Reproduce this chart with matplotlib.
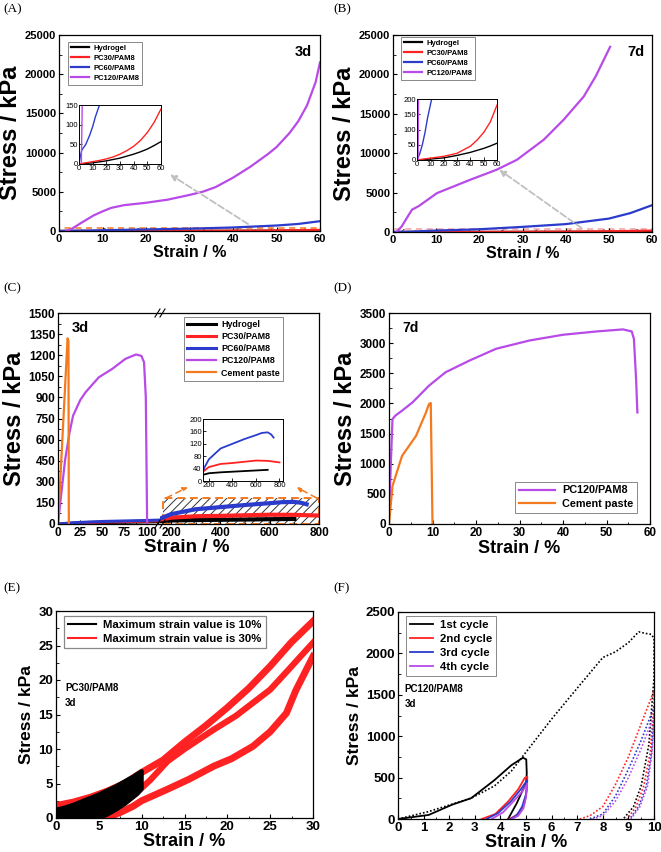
import numpy as np
import matplotlib.pyplot as plt
from matplotlib.patches import Rectangle, ConnectionPatch
from matplotlib.ticker import MultipleLocator, AutoMinorLocator

# ---------------- data ----------------
# (A) 3 d
a_hyd_x = [0, 10, 20, 30, 40, 45, 50, 55, 60]
a_hyd_y = [0, 3, 8, 15, 25, 31, 38, 47, 57]
a_pc30_x = [0, 5, 10, 15, 20, 25, 30, 35, 40, 45, 50, 55, 60]
a_pc30_y = [0, 3, 6, 9, 13, 18, 25, 34, 45, 60, 80, 106, 140]
a_pc60_x = [0, 1, 2, 5, 8, 10, 12, 15, 20, 30, 40, 50, 55, 60]
a_pc60_y = [0, 20, 35, 50, 75, 95, 120, 150, 200, 300, 450, 700, 900, 1250]
a_pc120_x = [1.7, 3, 5, 8, 10, 12, 15, 20, 25, 30, 33, 36, 40, 44, 48, 50, 53, 55, 57, 59, 60]
a_pc120_y = [0, 300, 1000, 2000, 2500, 2950, 3300, 3600, 4000, 4600, 5000, 5600, 6800,
             8200, 9800, 10700, 12500, 14000, 16000, 19000, 21500]

# (B) 7 d
b_hyd_x = [0, 10, 20, 30, 40, 50, 55, 60]
b_hyd_y = [0, 3, 7, 15, 25, 38, 46, 55]
b_pc30_x = [0, 10, 20, 30, 40, 45, 50, 55, 60]
b_pc30_y = [0, 6, 12, 22, 45, 65, 90, 125, 180]
b_pc60_x = [0, 1, 2, 4, 6, 8, 10, 11, 15, 20, 30, 40, 50, 55, 60]
b_pc60_y = [0, 10, 20, 50, 90, 140, 180, 200, 260, 350, 650, 1000, 1700, 2400, 3400]
b_pc120_x = [0.8, 2, 3, 4.4, 6, 10.2, 17.9, 24, 28.7, 34.9, 39.5, 44.2, 47, 50.3]
b_pc120_y = [0, 700, 1600, 2830, 3300, 4940, 6630, 7900, 9160, 11700, 14230, 17200, 19800, 23500]

# (C) 3 d, broken strain axis
c_hyd_x = [0, 20, 50, 100, 150, 200, 300, 400, 500, 600, 700]
c_hyd_y = [0, 5, 10, 15, 20, 25, 28, 30, 32, 34, 36]
c_pc30_x = [0, 20, 50, 100, 150, 200, 300, 400, 500, 600, 700, 800]
c_pc30_y = [0, 8, 14, 20, 30, 45, 55, 58, 62, 66, 65, 60]
c_pc60_x = [0, 20, 50, 100, 150, 200, 300, 400, 500, 600, 650, 700, 730, 750]
c_pc60_y = [0, 10, 18, 25, 35, 70, 105, 120, 135, 148, 155, 157, 150, 140]
c_pc120_x = [0, 2, 8, 13, 17, 25, 31, 46, 61, 76, 88, 94, 97, 99, 100, 100.5]
c_pc120_y = [0, 120, 455, 650, 770, 880, 936, 1043, 1102, 1174, 1205, 1195, 1150, 900, 300, 0]
c_cem_x = [0, 10.8, 11.8, 12.2]
c_cem_y = [0, 1320, 1300, 0]

# (D) 7 d
d_pc120_x = [0, 0.2, 0.4, 0.8, 1.5, 3, 5.4, 9.2, 13, 18.5, 24.6, 32.3, 40, 47.7, 53.8,
             55.8, 56.3, 56.8, 57.1]
d_pc120_y = [150, 500, 960, 1740, 1800, 1880, 2017, 2295, 2517, 2711, 2906, 3044, 3139,
             3194, 3228, 3194, 3072, 2405, 1850]
d_cem_x = [0, 0.8, 3, 6.2, 8.5, 9.2, 9.6, 9.8, 10.0]
d_cem_y = [0, 630, 1130, 1460, 1850, 1990, 2006, 1000, 0]

# (E) PC30/PAM8 cyclic
e10_x = [0, 1, 2, 3, 4, 5, 6, 7, 8, 9, 10, 10, 9.5, 9, 8, 7, 6, 5, 4.5, 0]
e10_y = [1.2, 1.5, 1.9, 2.4, 2.9, 3.4, 4.0, 4.6, 5.3, 6.0, 6.8, 4.2, 3.5, 3.0, 2.0, 1.2, 0.5, 0.0, 0.0, 0]
e30_load_x = [0, 2, 4, 6, 8, 10, 12.5, 15, 17.5, 20, 22.5, 25, 27.5, 30]
e30_load_y = [1.8, 2.3, 3.0, 3.9, 5.0, 6.6, 8.4, 11.0, 13.4, 16.0, 18.8, 22.0, 25.5, 28.5]
e30_unload_x = [30, 28, 26.9, 25, 23, 20.5, 18.4, 15.5, 12.9, 10, 9, 7.5, 5.9]
e30_unload_y = [23.4, 18.5, 15.2, 12.5, 10.4, 8.6, 7.5, 5.6, 4.1, 2.5, 1.7, 0.8, 0]
e30_reload_x = [5, 7, 9, 11, 13, 15, 18.4, 21, 23, 25, 27, 30]
e30_reload_y = [0, 1.5, 3.2, 5.5, 8.2, 10.0, 12.8, 14.8, 16.7, 18.6, 21.3, 25.4]

# (F) PC120/PAM8 cyclic
f1_x = [0, 1.2, 2.1, 2.86, 3.77, 4.43, 4.88, 5.01, 5.03, 5.0, 4.88, 4.64, 4.3]
f1_y = [0, 49, 171, 252, 470, 650, 740, 720, 550, 420, 354, 191, 0]
f2_x = [3.27, 3.8, 4.3, 4.7, 4.95, 5.05, 5.03, 4.95, 4.8, 4.6, 4.35]
f2_y = [0, 60, 211, 360, 496, 510, 350, 200, 100, 40, 0]
f3_x = [3.46, 3.9, 4.4, 4.8, 5.05, 5.0, 4.85, 4.65, 4.4]
f3_y = [0, 70, 210, 360, 470, 300, 150, 50, 0]
f4_x = [3.66, 4.1, 4.5, 4.85, 5.05, 5.0, 4.9, 4.7, 4.45]
f4_y = [0, 80, 210, 330, 430, 260, 130, 40, 0]
f1b_x = [0, 1.19, 2.86, 3.77, 4.43, 4.88, 6, 7, 8, 8.5, 9, 9.4, 9.7, 9.9, 10, 10, 9.8, 9.5, 9.2, 8.8]
f1b_y = [0, 89, 252, 400, 580, 760, 1207, 1580, 1950, 2020, 2130, 2260, 2240, 2230, 2180,
         1700, 900, 400, 150, 0]
f2b_x = [7.1, 7.5, 8, 8.5, 9, 9.5, 10, 10, 9.85, 9.6, 9.3, 8.95]
f2b_y = [0, 40, 150, 420, 750, 1150, 1550, 1400, 800, 400, 150, 0]
f3b_x = [7.5, 8, 8.5, 9, 9.5, 10, 10, 9.9, 9.7, 9.4, 9.05]
f3b_y = [0, 60, 280, 600, 950, 1350, 1250, 800, 400, 150, 0]
f4b_x = [7.6, 8, 8.5, 9, 9.5, 10, 10, 9.92, 9.75, 9.45, 9.1]
f4b_y = [0, 40, 220, 500, 850, 1250, 1150, 800, 400, 150, 0]

labels4 = ['Hydrogel', 'PC30/PAM8', 'PC60/PAM8', 'PC120/PAM8']
cycles = ['1st cycle', '2nd cycle', '3rd cycle', '4th cycle']

# ---------------- style ----------------
BLK, RED, BLU, PUR, ORA = '#000000', '#ff2222', '#2b3ccc', '#b84ae8', '#f47a20'
W, H = 661, 852
plt.rcParams['font.family'] = ['Liberation Sans', 'DejaVu Sans']
plt.rcParams['font.weight'] = 'bold'
plt.rcParams['axes.labelweight'] = 'bold'
plt.rcParams['xtick.direction'] = 'in'
plt.rcParams['ytick.direction'] = 'in'
plt.rcParams['axes.linewidth'] = 0.9
plt.rcParams['hatch.linewidth'] = 0.7
plt.rcParams['legend.frameon'] = True

fig = plt.figure(figsize=(W / 100, H / 100), dpi=100)


def box(l, t, r, b):
    return fig.add_axes([l / W, 1 - b / H, (r - l) / W, (b - t) / H])


def style(ax, xs, ys, fs):
    ax.xaxis.set_major_locator(MultipleLocator(xs))
    ax.yaxis.set_major_locator(MultipleLocator(ys))
    ax.xaxis.set_minor_locator(AutoMinorLocator(2))
    ax.yaxis.set_minor_locator(AutoMinorLocator(2))
    ax.tick_params(which='major', length=3, width=0.8, labelsize=fs, pad=2)
    ax.tick_params(which='minor', length=1.8, width=0.6)


def inset_style(ax, xs, ys):
    ax.xaxis.set_major_locator(MultipleLocator(xs))
    ax.yaxis.set_major_locator(MultipleLocator(ys))
    ax.tick_params(length=2, width=0.6, labelsize=5.5, pad=1)
    for lab in ax.get_xticklabels() + ax.get_yticklabels():
        lab.set_fontweight('normal')
    for s in ax.spines.values():
        s.set_linewidth(0.7)


def leg(ax, handles, labels, fs, anchor, loc='upper left', hl=2.4):
    lg = ax.legend(handles, labels, loc=loc, bbox_to_anchor=(anchor[0] / W, 1 - anchor[1] / H),
                   bbox_transform=fig.transFigure, fontsize=fs, fancybox=False, framealpha=1,
                   edgecolor='#888888', handlelength=hl, borderpad=0.35, labelspacing=0.35,
                   handletextpad=0.6, borderaxespad=0)
    lg.get_frame().set_linewidth(0.7)
    return lg


for lab, px in [('(A)', (3, 3)), ('(B)', (333, 3)), ('(C)', (3, 282)),
                ('(D)', (333, 282)), ('(E)', (3, 582)), ('(F)', (333, 582))]:
    fig.text(px[0] / W, 1 - px[1] / H, lab, family='Liberation Serif', weight='normal',
             fontsize=9.5, va='top', ha='left')

# ---------------- (A) ----------------
axA = box(59, 35, 320, 231)
axA.add_patch(Rectangle((0, 0), 60, 430, fill=False, hatch='/', edgecolor='#444444', lw=0))
axA.add_patch(Rectangle((0, 0), 60, 430, fill=False, edgecolor=ORA, lw=1.1, ls=(0, (4, 3))))
hA = []
for x, y, c in [(a_hyd_x, a_hyd_y, BLK), (a_pc30_x, a_pc30_y, RED),
                (a_pc60_x, a_pc60_y, BLU), (a_pc120_x, a_pc120_y, PUR)]:
    hA += axA.plot(x, y, color=c, lw=1.6)
axA.annotate('', xy=(25, 7400), xytext=(44, 700),
             arrowprops=dict(arrowstyle='-|>', color='#c0c0c0', ls='--', lw=1.3, mutation_scale=9))
axA.set_xlim(0, 60)
axA.set_ylim(0, 25000)
style(axA, 10, 5000, 8)
axA.set_xlabel('Strain / %', fontsize=11.5, labelpad=1)
axA.set_ylabel('Stress / kPa', fontsize=17, labelpad=2)
axA.text(0.97, 0.95, '3d', transform=axA.transAxes, ha='right', va='top', fontsize=10.5)
leg(axA, hA, labels4, 5.5, (68, 42))

insA = box(79, 105, 161, 164)
for x, y, c in [(a_hyd_x, a_hyd_y, BLK), (a_pc30_x, a_pc30_y, RED),
                (a_pc60_x, a_pc60_y, BLU), (a_pc120_x, a_pc120_y, PUR)]:
    insA.plot(x, y, color=c, lw=1.0)
insA.set_xlim(0, 60)
insA.set_ylim(0, 150)
inset_style(insA, 10, 50)

# ---------------- (B) ----------------
axB = box(393, 35, 652, 232)
axB.add_patch(Rectangle((0, 0), 60, 330, fill=False, hatch='/', edgecolor='#444444', lw=0))
axB.add_patch(Rectangle((0, 0), 60, 330, fill=False, edgecolor='#f5a0a0', lw=1.1, ls=(0, (4, 3))))
hB = []
for x, y, c in [(b_hyd_x, b_hyd_y, BLK), (b_pc30_x, b_pc30_y, RED),
                (b_pc60_x, b_pc60_y, BLU), (b_pc120_x, b_pc120_y, PUR)]:
    hB += axB.plot(x, y, color=c, lw=1.6)
axB.annotate('', xy=(24.1, 8100), xytext=(44.2, 300),
             arrowprops=dict(arrowstyle='-|>', color='#c0c0c0', ls='--', lw=1.3, mutation_scale=9))
axB.set_xlim(0, 60)
axB.set_ylim(0, 25000)
style(axB, 10, 5000, 8)
axB.set_xlabel('Strain / %', fontsize=11.5, labelpad=1)
axB.set_ylabel('Stress / kPa', fontsize=17, labelpad=2)
axB.text(0.97, 0.95, '7d', transform=axB.transAxes, ha='right', va='top', fontsize=10.5)
leg(axB, hB, labels4, 5.5, (401, 37))

insB = box(417, 99, 497, 160)
for x, y, c in [(b_hyd_x, b_hyd_y, BLK), (b_pc30_x, b_pc30_y, RED),
                (b_pc60_x, b_pc60_y, BLU), (b_pc120_x, b_pc120_y, PUR)]:
    insB.plot(x, y, color=c, lw=1.0)
insB.set_xlim(0, 60)
insB.set_ylim(0, 200)
inset_style(insB, 10, 50)

# ---------------- (C) ----------------
axC1 = box(58, 313, 160, 524)
axC2 = box(160, 313, 319, 524)
hC = []
for x, y, c in [(c_hyd_x, c_hyd_y, BLK), (c_pc30_x, c_pc30_y, RED), (c_pc60_x, c_pc60_y, BLU)]:
    hC += axC1.plot(x, y, color=c, lw=2.2)
    axC2.plot(x, y, color=c, lw=3.0)
hC += axC1.plot(c_pc120_x, c_pc120_y, color=PUR, lw=1.6)
hC += axC1.plot(c_cem_x, c_cem_y, color=ORA, lw=1.6)
axC2.add_patch(Rectangle((168, 0), 632, 185, fill=False, hatch='////', edgecolor='#333333', lw=0, zorder=0))
axC2.add_patch(Rectangle((168, 0), 632, 185, fill=False, edgecolor=ORA, lw=1.4, ls=(0, (4, 2.5))))
axC1.set_xlim(0, 115)
axC2.set_xlim(155, 800)
for ax in (axC1, axC2):
    ax.set_ylim(0, 1500)
style(axC1, 25, 150, 8.5)
style(axC2, 200, 150, 8.5)
axC1.spines['right'].set_visible(False)
axC2.spines['left'].set_visible(False)
axC2.tick_params(axis='y', which='both', left=False, labelleft=False)
axC1.set_ylabel('Stress / kPa', fontsize=17, labelpad=2)
fig.text(187 / W, 1 - 547 / H, 'Strain / %', fontsize=13.5, ha='center', va='center')
axC1.text(0.13, 0.96, '3d', transform=axC1.transAxes, ha='left', va='top', fontsize=10.5)
dx, dy = 2.5 / W, 4 / H
for ypx in (524, 313):
    for off in (-2.5, 2.5):
        xc = (160 + off) / W
        yc = 1 - ypx / H
        fig.add_artist(plt.Line2D([xc - dx, xc + dx], [yc - dy, yc + dy],
                                  color='k', lw=0.8, transform=fig.transFigure))
leg(axC2, hC, labels4 + ['Cement paste'], 6.4, (184, 317), hl=3.2)

insC = box(203, 419, 283, 481)
for x, y, c in [(c_hyd_x, c_hyd_y, BLK), (c_pc30_x, c_pc30_y, RED), (c_pc60_x, c_pc60_y, BLU)]:
    insC.plot(x, y, color=c, lw=1.3)
insC.set_xlim(150, 830)
insC.set_ylim(0, 200)
inset_style(insC, 200, 40)
for xa, xb in [(180, -0.19), (790, 1.17)]:
    cp = ConnectionPatch(xyA=(xa, 185), coordsA=axC2.transData, xyB=(xb, -0.1),
                         coordsB=insC.transAxes, arrowstyle='-|>', color=ORA, lw=1.1,
                         ls=(0, (4, 3)), mutation_scale=7)
    fig.add_artist(cp)

# ---------------- (D) ----------------
axD = box(389, 313, 650, 524)
hD = axD.plot(d_pc120_x, d_pc120_y, color=PUR, lw=1.6)
hD += axD.plot(d_cem_x, d_cem_y, color=ORA, lw=1.6)
axD.set_xlim(0, 60)
axD.set_ylim(0, 3500)
style(axD, 10, 500, 8.5)
axD.set_xlabel('Strain / %', fontsize=13, labelpad=1)
axD.set_ylabel('Stress / kPa', fontsize=17, labelpad=2)
axD.text(0.05, 0.96, '7d', transform=axD.transAxes, ha='left', va='top', fontsize=10)
leg(axD, hD, ['PC120/PAM8', 'Cement paste'], 7.8, (637, 513), loc='lower right', hl=3.4)

# ---------------- (E) ----------------
axE = box(56, 611, 313, 818)
axE.fill(e10_x, e10_y, color=BLK, lw=0, zorder=3)
hE = axE.plot(e10_x, e10_y, color=BLK, lw=3, zorder=3)
hE += axE.plot(e30_load_x, e30_load_y, color=RED, lw=5)
axE.plot(e30_unload_x, e30_unload_y, color=RED, lw=5)
axE.plot(e30_reload_x, e30_reload_y, color=RED, lw=4.5)
axE.set_xlim(0, 30)
axE.set_ylim(0, 30)
style(axE, 5, 5, 9.5)
axE.set_xlabel('Strain / %', fontsize=13, labelpad=0)
axE.set_ylabel('Stress / kPa', fontsize=12.5, labelpad=3)
axE.text(0.035, 0.59, 'PC30/PAM8\n3d', transform=axE.transAxes, ha='left', va='center',
         fontsize=7, linespacing=1.6)
lgE = leg(axE, [plt.Line2D([], [], color=BLK, lw=1.5), plt.Line2D([], [], color=RED, lw=1.5)],
          ['Maximum strain value is 10%', 'Maximum strain value is 30%'], 8.2, (64, 616), hl=2.5)
lgE.get_frame().set_linewidth(0.9)

# ---------------- (F) ----------------
axF = box(398, 612, 654, 819)
hF = axF.plot(f1_x, f1_y, color=BLK, lw=1.3)
hF += axF.plot(f2_x, f2_y, color=RED, lw=1.3)
hF += axF.plot(f3_x, f3_y, color=BLU, lw=1.3)
hF += axF.plot(f4_x, f4_y, color=PUR, lw=1.3)
axF.plot(f1b_x, f1b_y, color=BLK, lw=1.2, ls=(0, (1, 1.2)))
axF.plot(f2b_x, f2b_y, color=RED, lw=1.2, ls=(0, (1, 1.2)))
axF.plot(f3b_x, f3b_y, color=BLU, lw=1.2, ls=(0, (1, 1.2)))
axF.plot(f4b_x, f4b_y, color=PUR, lw=1.2, ls=(0, (1, 1.2)))
axF.set_xlim(0, 10)
axF.set_ylim(0, 2500)
style(axF, 1, 500, 9.5)
axF.set_xlabel('Strain / %', fontsize=13, labelpad=0)
axF.set_ylabel('Stress / kPa', fontsize=12.5, labelpad=3)
axF.text(0.025, 0.59, 'PC120/PAM8\n3d', transform=axF.transAxes, ha='left', va='center',
         fontsize=7, linespacing=1.6)
leg(axF, hF, cycles, 8.2, (406, 616), hl=2.0)

fig.savefig('out.png', dpi=100)
